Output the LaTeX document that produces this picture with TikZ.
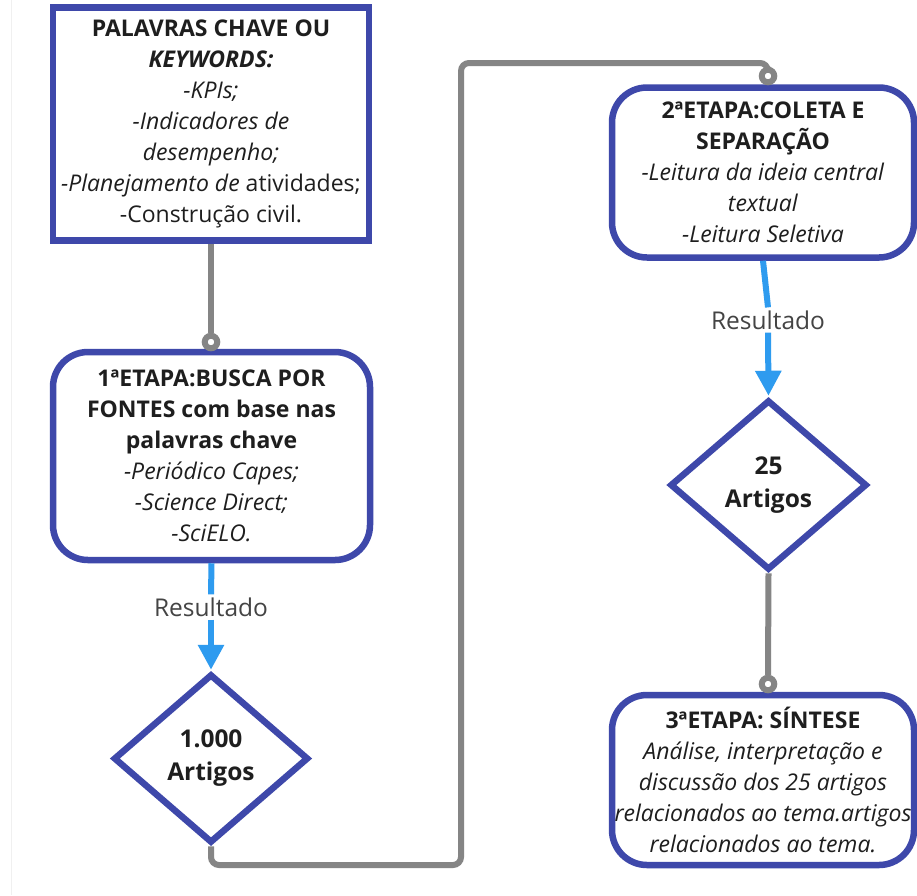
\documentclass[tikz,border=0pt]{standalone}
\usepackage{fontspec}
\setmainfont{Open Sans}
\usetikzlibrary{shapes.geometric,arrows.meta}
\definecolor{boxblue}{HTML}{3E48AA}
\definecolor{arrowblue}{HTML}{2E9BEF}
\definecolor{linegray}{HTML}{858585}
\definecolor{txt}{HTML}{1E1E1E}
\definecolor{restxt}{HTML}{444444}
\tikzset{
  sqbox/.style={draw=boxblue, line width=6.5pt, fill=white, rectangle, inner sep=0pt,
    align=center, text=txt, font=\fontsize{23}{31}\selectfont},
  rbox/.style={sqbox, rounded corners=35pt},
  diam/.style={draw=boxblue, line width=6.5pt, fill=white, diamond, inner sep=0pt,
    align=center, text=txt, font=\fontsize{24.5}{33}\selectfont\bfseries},
  ring/.style={circle, draw=linegray, line width=6pt, fill=white, minimum size=12.5pt, inner sep=0pt},
  gline/.style={draw=linegray, line width=6pt},
  bline/.style={draw=arrowblue, line width=6pt},
  barrow/.style={bline, -{Triangle[length=25pt,width=25pt]}, shorten >=1pt},
  reslabel/.style={text=restxt, font=\fontsize{24.5}{28}\selectfont, inner sep=3pt}
}
\begin{document}
\begin{tikzpicture}[x=1pt,y=-1pt]
\useasboundingbox (0,0) rectangle (917,895);
\fill[white] (0,0) rectangle (917,895);
\draw[gray!12, line width=1pt] (11,0) -- (11,895);

% Box 0
\node[sqbox, minimum width=316pt, minimum height=233pt] (b0) at (211,124)
 {\textbf{PALAVRAS CHAVE OU}\\ \textbf{\textit{KEYWORDS:}}\\ \textit{-KPIs;}\\
  \textit{-Indicadores de}\\ \textit{desempenho;}\\ \textit{-Planejamento de} atividades;\\
  -Construção civil.};

% Box 1
\node[rbox, minimum width=317pt, minimum height=208pt] (b1) at (211.5,456)
 {\textbf{1ªETAPA:BUSCA POR}\\ \textbf{FONTES com base nas}\\ \textbf{palavras chave}\\
  \textit{-Periódico Capes;}\\ \textit{-Science Direct;}\\ \textit{-SciELO.}};

% Box 2
\node[rbox, minimum width=302pt, minimum height=170pt] (b2) at (763,172.5)
 {\textbf{2ªETAPA:COLETA E}\\ \textbf{SEPARAÇÃO}\\ \textit{-Leitura da ideia central}\\
  \textit{textual}\\ \textit{-Leitura Seletiva}};

% Box 3
\node[rbox, minimum width=302pt, minimum height=170pt] (b3) at (763,780)
 {\textbf{3ªETAPA: SÍNTESE}\\ \textit{Análise, interpretação e}\\ \textit{discussão dos 25 artigos}\\
  \textit{relacionados ao tema.artigos}\\ \textit{relacionados ao tema.}};

% Diamonds
\node[diam, minimum width=195pt, minimum height=169pt] (d1) at (211,758.5) {1.000\\Artigos};
\node[diam, minimum width=197pt, minimum height=170pt] (d2) at (768.5,485) {25\\Artigos};

% Rings
\node[ring] (r1) at (211,342) {};
\node[ring] (r2) at (768,76) {};
\node[ring] (r3) at (768,684) {};

% Result labels
\node[reslabel] (l1) at (211,607) {Resultado};
\node[reslabel] (l2) at (768,320) {Resultado};

% Gray connectors
\draw[gline] (b0.south) -- (r1.north);
\draw[gline] (d2.south) -- (r3.north);
\draw[gline, rounded corners=8pt] (d1.south) -- (211,865) -- (461,865) -- (461,63) -- (768,63) -- (r2.north);

% Blue connectors
\draw[bline] (b1.south) -- (l1.north);
\draw[barrow] (l1.south) -- (d1.north);
\draw[bline] (b2.south) -- (l2.north);
\draw[barrow] (l2.south) -- (d2.north);
\end{tikzpicture}
\end{document}
